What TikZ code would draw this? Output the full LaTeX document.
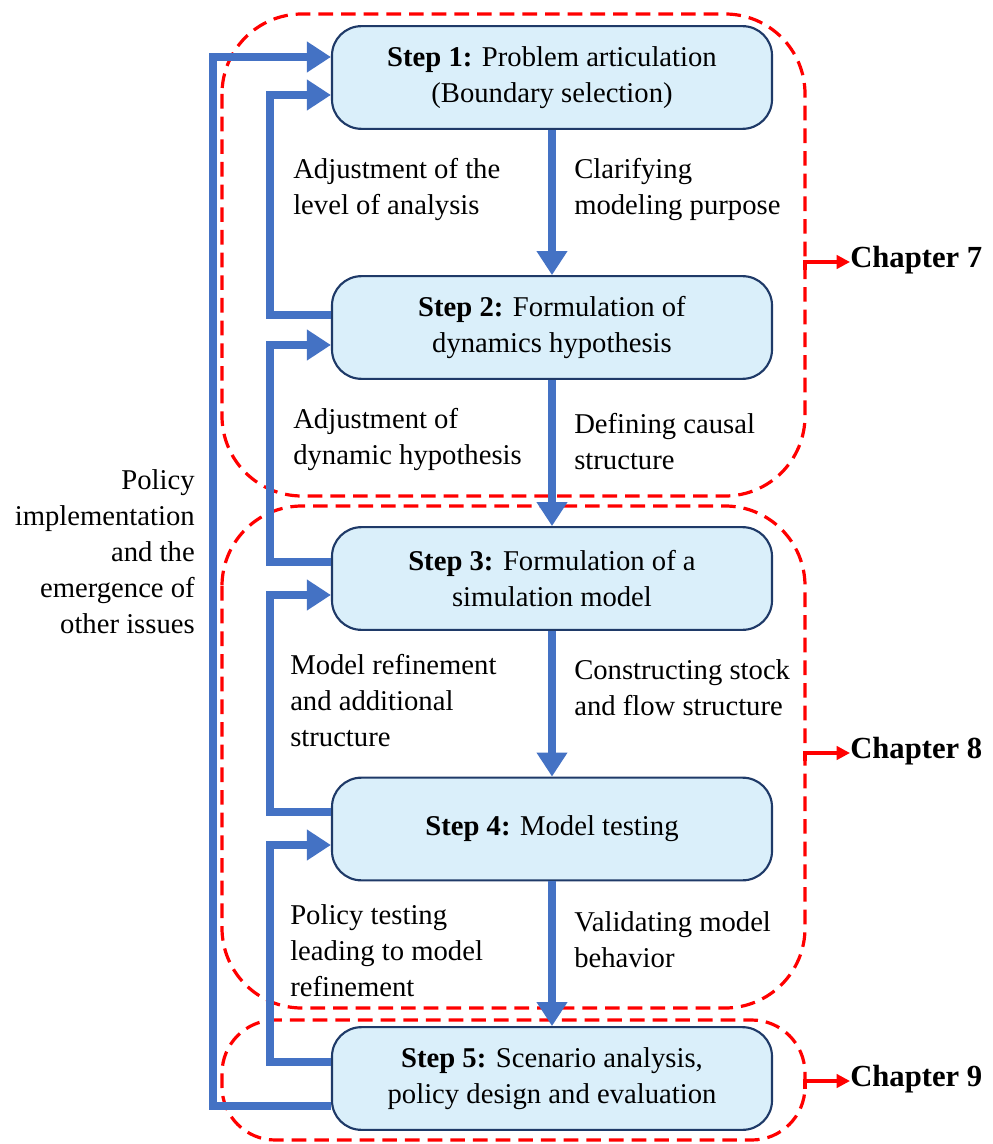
\documentclass[tikz,border=0pt]{standalone}
\usepackage{fontspec}
\setmainfont{Liberation Serif}
\usetikzlibrary{arrows.meta}
\definecolor{flowblue}{HTML}{4472C4}
\definecolor{boxfill}{HTML}{DAEFFA}
\definecolor{boxline}{HTML}{1F3A68}
\definecolor{chapred}{HTML}{FF0000}
\begin{document}
\begin{tikzpicture}[x=0.75pt,y=-0.75pt,
  font=\fontsize{21.5}{27}\selectfont,
  stepbox/.style={draw=boxline,line width=1.6pt,fill=boxfill,rounded corners=22pt,
    minimum width=330pt,minimum height=77pt,align=center,inner sep=0pt},
  flow/.style={draw=flowblue,line width=6pt,-{Triangle[length=18pt,width=22pt]}},
  note/.style={align=left,anchor=north west,inner sep=0pt},
  chapbox/.style={draw=chapred,line width=2.4pt,dash pattern=on 11pt off 6pt},
  chaparrow/.style={draw=chapred,line width=2.4pt,-{Triangle[length=10pt,width=10pt]}},
  chaplabel/.style={anchor=west,inner sep=0pt,font=\fontsize{23}{27}\selectfont\bfseries}]
\useasboundingbox (0,0) rectangle (992,1144);

% chapter groupings
\draw[chapbox,rounded corners=60pt] (222,14) rectangle (805,496);
\draw[chapbox,rounded corners=60pt] (222,506) rectangle (805,1008);
\draw[chapbox,rounded corners=40pt] (222,1020) rectangle (805,1140);

% modelling steps
\node[stepbox] (s1) at (552,77.5) {\textbf{Step 1:} Problem articulation\\(Boundary selection)};
\node[stepbox] (s2) at (552,327.5) {\textbf{Step 2:} Formulation of\\dynamics hypothesis};
\node[stepbox] (s3) at (552,578.5) {\textbf{Step 3:} Formulation of a\\simulation model};
\node[stepbox] (s4) at (552,829) {\textbf{Step 4:} Model testing};
\node[stepbox] (s5) at (552,1078.5) {\textbf{Step 5:} Scenario analysis,\\policy design and evaluation};

% forward flow
\draw[flow] (s1.south) -- (s2.north);
\draw[flow] (s2.south) -- (s3.north);
\draw[flow] (s3.south) -- (s4.north);
\draw[flow] (s4.south) -- (s5.north);

% feedback loops
\draw[flow] (s2.west |- 0,315) -- (270,315) -- (270,95) -- (s1.west |- 0,95);
\draw[flow] (s3.west |- 0,562) -- (270,562) -- (270,345) -- (s2.west |- 0,345);
\draw[flow] (s4.west |- 0,812) -- (270,812) -- (270,595) -- (s3.west |- 0,595);
\draw[flow] (s5.west |- 0,1062) -- (270,1062) -- (270,845) -- (s4.west |- 0,845);
\draw[flow] (s5.west |- 0,1106) -- (213,1106) -- (213,57) -- (s1.west |- 0,57);

% loop and flow labels
\node[note] (l1) at (293,158) {Adjustment of the\\level of analysis};
\node[note] (r1) at (574,158) {Clarifying\\modeling purpose};
\node[note] (l2) at (293,408) {Adjustment of\\dynamic hypothesis};
\node[note] (r2) at (574,413) {Defining causal\\structure};
\node[note] (l3) at (290,654) {Model refinement\\and additional\\structure};
\node[note] (r3) at (574,659) {Constructing stock\\and flow structure};
\node[note] (l4) at (290,904) {Policy testing\\leading to model\\refinement};
\node[note] (r4) at (574,911) {Validating model\\behavior};
\node[align=right,anchor=north east,inner sep=0pt] (outer) at (195,469)
  {Policy\\implementation\\and the\\emergence of\\other issues};

% chapter markers
\coordinate (c7) at (805,262);
\coordinate (c8) at (805,753);
\coordinate (c9) at (805,1081);
\node[chaplabel] (ch7) at (850,260) {Chapter 7};
\node[chaplabel] (ch8) at (850,751) {Chapter 8};
\node[chaplabel] (ch9) at (850,1079) {Chapter 9};
\draw[chaparrow] ([yshift=-6pt]c7) -- (c7) -- (ch7.west |- c7);
\draw[chaparrow] ([yshift=-6pt]c8) -- (c8) -- (ch8.west |- c8);
\draw[chaparrow] ([yshift=-6pt]c9) -- (c9) -- (ch9.west |- c9);
\end{tikzpicture}
\end{document}
